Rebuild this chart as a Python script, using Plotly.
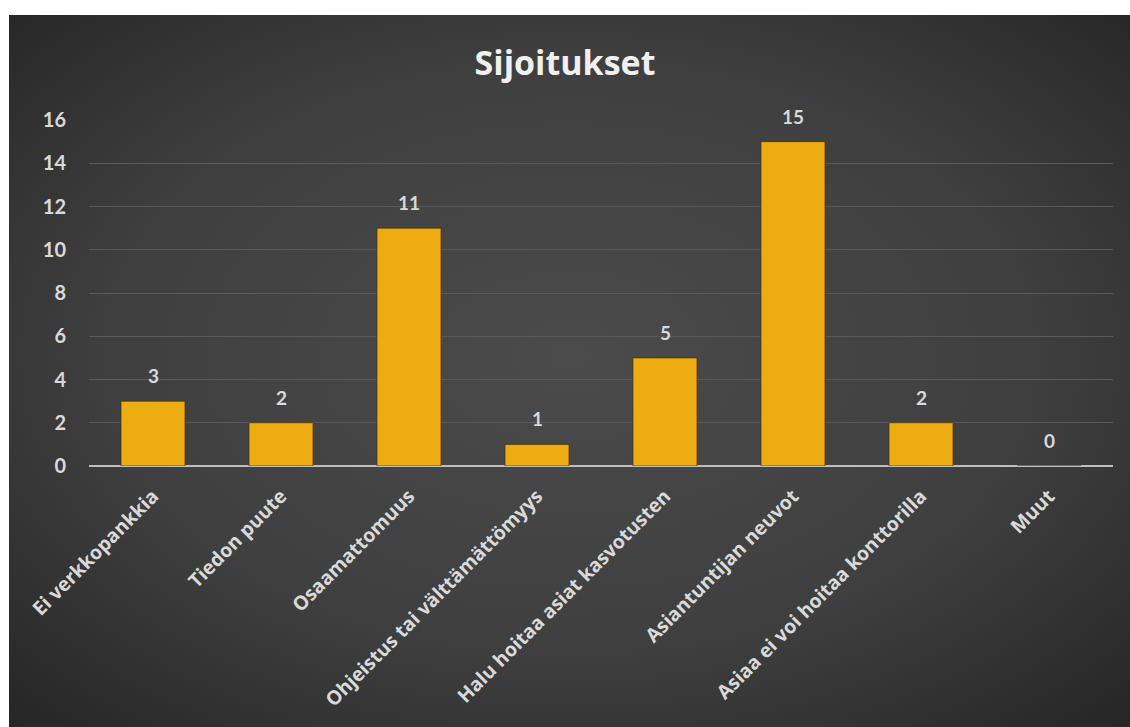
import base64
import plotly.graph_objects as go

categories = ["Ei verkkopankkia", "Tiedon puute", "Osaamattomuus",
              "Ohjeistus tai välttämättömyys", "Halu hoitaa asiat kasvotusten",
              "Asiantuntijan neuvot", "Asiaa ei voi hoitaa konttorilla", "Muut"]
values = [3, 2, 11, 1, 5, 15, 2, 0]
y_ticks = [0, 2, 4, 6, 8, 10, 12, 14, 16]
title_text = "Sijoitukset"

W, H = 1130, 727
L, R, T, B = 89, 17, 120, 261
pw, ph = W - L - R, H - T - B

svg = ("<svg xmlns='http://www.w3.org/2000/svg' width='1121' height='712' "
       "viewBox='0 0 1121 712' preserveAspectRatio='none'><defs>"
       "<radialGradient id='g' cx='50%' cy='48%' r='75%' gradientUnits='objectBoundingBox'>"
       "<stop offset='0' stop-color='#4b4b4b'/><stop offset='0.55' stop-color='#3f3f3f'/>"
       "<stop offset='1' stop-color='#232323'/></radialGradient></defs>"
       "<rect width='1121' height='712' fill='url(#g)'/></svg>")
src = "data:image/svg+xml;base64," + base64.b64encode(svg.encode()).decode()

fig = go.Figure(go.Bar(
    x=categories, y=values,
    marker=dict(color="#EDAD10", line=dict(color="rgba(70,45,0,0.7)", width=1)),
    hoverinfo="x+y",
))

for c, v in zip(categories, values):
    fig.add_annotation(x=c, y=v, text=str(v), showarrow=False, yanchor="bottom", yshift=12,
                       font=dict(family="Lato", size=19, color="#d9d9d9", weight="bold"))

x0 = (9 - L) / pw
x1 = (W - L) / pw
ytop = (H - B - 15) / ph
ybot = (H - B - H) / ph
fig.add_layout_image(dict(source=src, xref="paper", yref="paper", x=x0, y=ytop,
                          sizex=x1 - x0, sizey=ytop - ybot, sizing="stretch",
                          xanchor="left", yanchor="top", layer="below"))

fig.update_layout(
    width=W, height=H, margin=dict(l=L, r=R, t=T, b=B),
    paper_bgcolor="white", plot_bgcolor="rgba(0,0,0,0)",
    bargap=0.5, showlegend=False,
    title=dict(text=title_text, x=0.5, xanchor="center", y=1 - 63 / H, yanchor="middle",
               xref="container", yref="container",
               font=dict(family="Open Sans", size=34, color="#f0f0f0", weight="bold")),
    xaxis=dict(tickangle=-45, tickfont=dict(family="Open Sans", size=19.5, color="#d9d9d9", weight="bold"),
               showgrid=False, showline=False, zeroline=False, ticklabelstandoff=14),
    yaxis=dict(range=[0, 16], tickvals=y_ticks, showgrid=True, gridcolor="#595959", gridwidth=1,
               zeroline=True, zerolinecolor="#bfbfbf", zerolinewidth=2, showline=False,
               tickfont=dict(family="Lato", size=20, color="#d9d9d9", weight="bold"),
               ticklabelstandoff=22),
    font=dict(family="Lato"),
)

fig.write_html("out.html")
